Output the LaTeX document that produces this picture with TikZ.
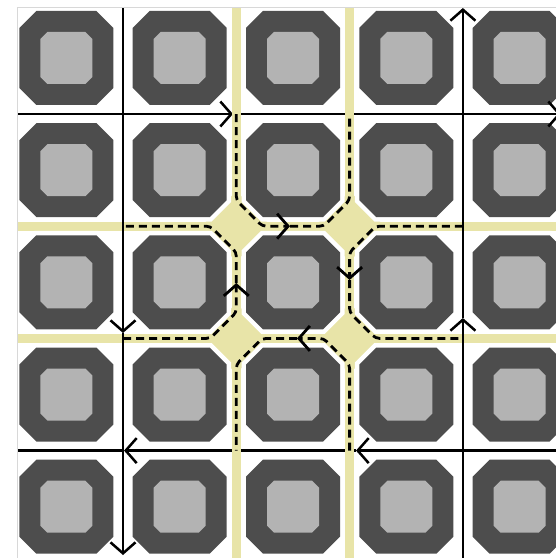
\documentclass[tikz,border=0pt]{standalone}
\usetikzlibrary{arrows.meta}
\definecolor{padgray}{HTML}{4D4D4D}
\definecolor{padcore}{HTML}{B3B3B3}
\definecolor{lanecol}{HTML}{E8E4A8}
\definecolor{framecol}{HTML}{D8D8D8}
\tikzset{wire/.style={line width=2.5pt,draw=black},
  wiretip/.style={wire,-{Straight Barb[length=11pt,width=25pt]}},
  flow/.style={line width=2.8pt,draw=black,dash pattern=on 8pt off 5pt,
  rounded corners=4pt},
  flowtip/.style={flow,-{Straight Barb[length=11pt,width=25pt]}},
  lane/.style={draw=lanecol,line width=9pt},
  junction/.style={fill=lanecol},
  pad/.pic={
    \draw[white,line width=9pt] (-47,-30)--(-47,30)--(-30,47)--(30,47)--(47,30)
      --(47,-30)--(30,-47)--(-30,-47)--cycle;
    \fill[padgray] (-47,-30)--(-47,30)--(-30,47)--(30,47)--(47,30)
      --(47,-30)--(30,-47)--(-30,-47)--cycle;
    \fill[padcore] (-26,-19)--(-26,19)--(-19,26)--(19,26)--(26,19)
      --(26,-19)--(19,-26)--(-19,-26)--cycle;}}

\begin{document}
\begin{tikzpicture}[x=1pt,y=-1pt]
\useasboundingbox (0,0) rectangle (556,558);
\clip (17,7) rectangle (556,558);
\coordinate (j1) at (236.3,226.2);
\coordinate (j2) at (349.6,226.2);
\coordinate (j3) at (236.3,338.4);
\coordinate (j4) at (349.6,338.4);
\coordinate (p1s) at (236.3,114);
\coordinate (p1e) at (349.6,114);
\coordinate (p2s) at (462.9,226.2);
\coordinate (p2e) at (462.9,338.4);
\coordinate (p3s) at (349.6,450.6);
\coordinate (p3e) at (236.3,450.6);
\coordinate (p4s) at (123,338.4);
\coordinate (p4e) at (123,226.2);
\draw[lane] (17,226.2) -- (556,226.2);
\draw[lane] (17,338.4) -- (556,338.4);
\foreach \j in {j1,j2,j3,j4}
  \fill[junction] ([xshift=-35pt]\j) -- ([yshift=35pt]\j) -- ([xshift=35pt]\j)
    -- ([yshift=-35pt]\j) -- cycle;
\foreach \i in {0,...,4}
  \foreach \k in {0,...,4}
    \pic at ({66.4+113.3*\i},{57.9+112.2*\k}) {pad};
\draw[wiretip] (17,114) -- (233,114);
\draw[wiretip] (233,114) -- (561,114);
\draw[wiretip] (556,450.6) -- (356,450.6);
\draw[wiretip] (356,450.6) -- (124,450.6);
\draw[wire] (124,450.6) -- (17,450.6);
\draw[lane] (236.3,7) -- (236.3,558);
\draw[lane] (349.6,7) -- (349.6,558);
\draw[wiretip] (123,7) -- (123,333);
\draw[wiretip] (123,333) -- (123,555);
\draw[wiretip] (462.9,558) -- (462.9,318);
\draw[wiretip] (462.9,318) -- (462.9,8);
\draw[flowtip] (p1s) -- ([yshift=26pt]j1) -- ([xshift=26pt]j1) -- (290,226.2);
\draw[flow] (290,226.2) -- ([xshift=-26pt]j2) -- ([yshift=26pt]j2) -- (p1e);
\draw[flowtip] (p2s) -- ([xshift=26pt]j2) -- ([yshift=-26pt]j2) -- (349.6,280);
\draw[flow] (349.6,280) -- ([yshift=26pt]j4) -- ([xshift=26pt]j4) -- (p2e);
\draw[flowtip] (p3s) -- ([yshift=-26pt]j4) -- ([xshift=-26pt]j4) -- (297,338.4);
\draw[flow] (297,338.4) -- ([xshift=26pt]j3) -- ([yshift=-26pt]j3) -- (p3e);
\draw[flowtip] (p4s) -- ([xshift=-26pt]j3) -- ([yshift=26pt]j3) -- (236.3,283);
\draw[flow] (236.3,283) -- ([yshift=-26pt]j1) -- ([xshift=-26pt]j1) -- (p4e);
\draw[framecol,line width=0.8pt] (556,7.4) -- (17.4,7.4) -- (17.4,558);
\end{tikzpicture}
\end{document}
